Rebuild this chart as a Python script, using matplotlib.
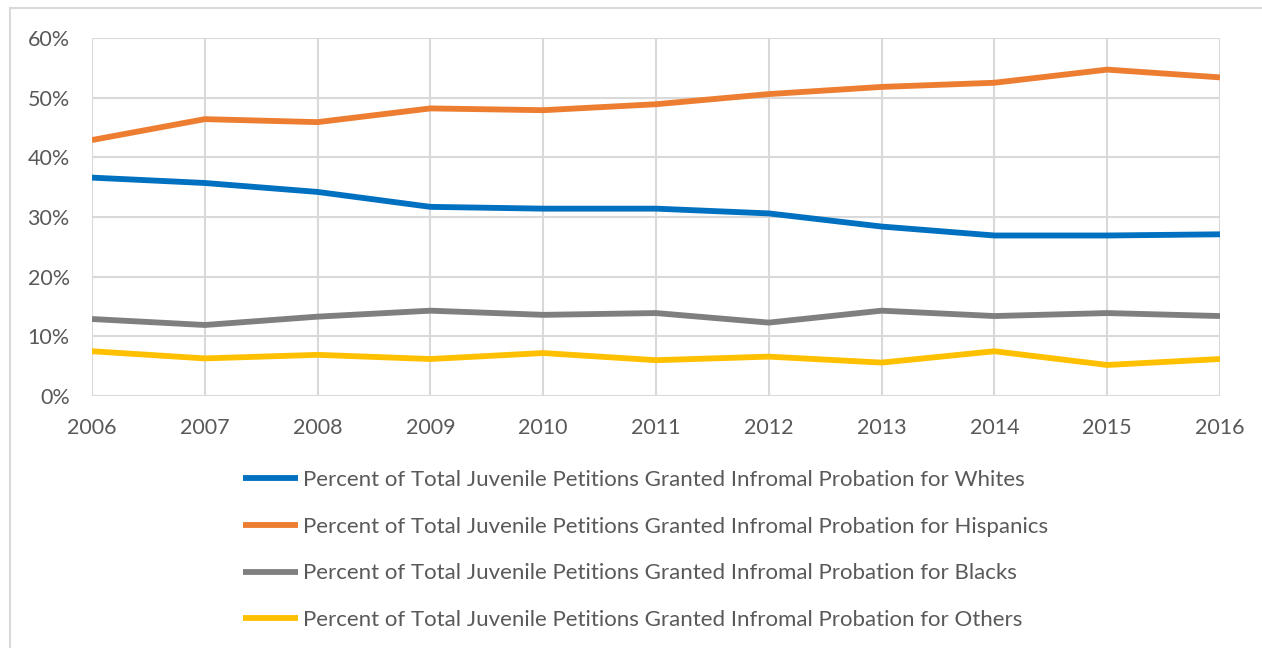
import matplotlib.pyplot as plt
from matplotlib.lines import Line2D
from matplotlib.ticker import PercentFormatter

plt.rcParams['font.family'] = ['Lato', 'DejaVu Sans']

years = [2006, 2007, 2008, 2009, 2010, 2011, 2012, 2013, 2014, 2015, 2016]
whites = [36.6, 35.7, 34.2, 31.7, 31.4, 31.4, 30.6, 28.4, 26.9, 26.9, 27.1]
hispanics = [42.9, 46.4, 45.9, 48.2, 47.9, 48.9, 50.6, 51.8, 52.5, 54.7, 53.4]
blacks = [12.9, 11.9, 13.3, 14.3, 13.6, 13.9, 12.3, 14.3, 13.4, 13.9, 13.4]
others = [7.5, 6.3, 6.9, 6.2, 7.2, 6.0, 6.6, 5.6, 7.5, 5.2, 6.2]

labels = [
    "Percent of Total Juvenile Petitions Granted Infromal Probation for Whites",
    "Percent of Total Juvenile Petitions Granted Infromal Probation for Hispanics",
    "Percent of Total Juvenile Petitions Granted Infromal Probation for Blacks",
    "Percent of Total Juvenile Petitions Granted Infromal Probation for Others",
]
colors = ["#0070C0", "#ED7D31", "#7F7F7F", "#FFC000"]

text_color = "#595959"
grid_color = "#D9D9D9"

fig = plt.figure(figsize=(12.62, 6.48), dpi=100)
ax = fig.add_axes([92 / 1262, 1 - 396 / 648, (1220 - 92) / 1262, (396 - 38) / 648])

for series, color, label in zip([whites, hispanics, blacks, others], colors, labels):
    ax.plot(years, series, color=color, linewidth=4.2, label=label, solid_capstyle='butt')

ax.set_xlim(2006, 2016)
ax.set_ylim(0, 60)
ax.set_xticks(years)
ax.set_yticks(range(0, 61, 10))
ax.yaxis.set_major_formatter(PercentFormatter(decimals=0))
ax.grid(True, color=grid_color, linewidth=1.5)
ax.set_axisbelow(True)
for s in ax.spines.values():
    s.set_visible(False)
ax.tick_params(axis='both', length=0, labelsize=15.5, colors=text_color)
ax.tick_params(axis='y', pad=16)
ax.tick_params(axis='x', pad=16)

# Rahmen um das Diagramm
fig.add_artist(Line2D([10 / 1262, 10 / 1262], [0, 1 - 8 / 648], color=grid_color, linewidth=1.5))
fig.add_artist(Line2D([10 / 1262, 1], [1 - 8 / 648, 1 - 8 / 648], color=grid_color, linewidth=1.5))

leg = fig.legend(loc='upper left', bbox_to_anchor=(243 / 1262, 1 - 470 / 648), frameon=False,
                 fontsize=16, handlelength=2.48, handletextpad=0.22, labelspacing=1.2,
                 borderpad=0, borderaxespad=0)
for t in leg.get_texts():
    t.set_color(text_color)

fig.savefig("out.png", dpi=100)
